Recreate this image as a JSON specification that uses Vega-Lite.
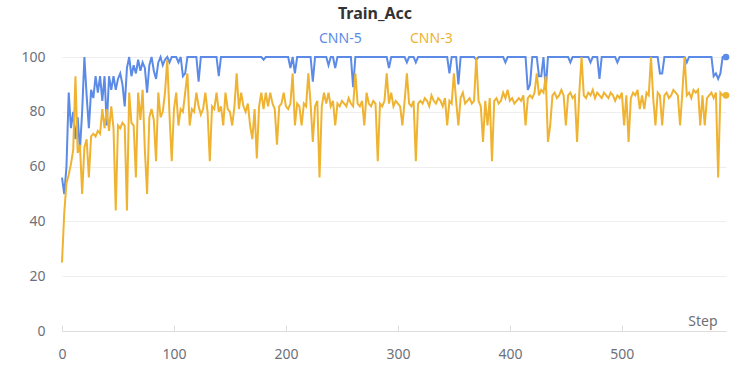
{
"$schema": "https://vega.github.io/schema/vega-lite/v6.json",
"width": 664, "height": 274,
"autosize": {"type": "none"},
"padding": {"left": 62, "top": 57, "right": 24, "bottom": 44},
"background": "white",
"title": {"text": "Train_Acc", "anchor": "middle", "dx": -19, "offset": 10, "fontSize": 16, "font": "Noto Sans", "fontWeight": "bold", "color": "#333333"},
"config": {"view": {"stroke": null}, "font": "Noto Sans"},
"data": {"values": [
{"s":0,"CNN-5":56,"CNN-3":25},{"s":2,"CNN-5":50,"CNN-3":43},{"s":4,"CNN-5":60,"CNN-3":54},{"s":6,"CNN-5":87,"CNN-3":57},{"s":8,"CNN-5":74,"CNN-3":61},
{"s":10,"CNN-5":80,"CNN-3":66},{"s":12,"CNN-5":70,"CNN-3":93},{"s":14,"CNN-5":78,"CNN-3":65},{"s":16,"CNN-5":66,"CNN-3":68},{"s":18,"CNN-5":80,"CNN-3":50},
{"s":20,"CNN-5":100,"CNN-3":67},{"s":22,"CNN-5":86,"CNN-3":70},{"s":24,"CNN-5":74,"CNN-3":56},{"s":26,"CNN-5":88,"CNN-3":71},{"s":28,"CNN-5":85,"CNN-3":72},
{"s":30,"CNN-5":93,"CNN-3":71},{"s":32,"CNN-5":87,"CNN-3":73},{"s":34,"CNN-5":93,"CNN-3":72},{"s":36,"CNN-5":84,"CNN-3":81},{"s":38,"CNN-5":93,"CNN-3":74},
{"s":40,"CNN-5":75,"CNN-3":81},{"s":42,"CNN-5":93,"CNN-3":73},{"s":44,"CNN-5":88,"CNN-3":82},{"s":46,"CNN-5":93,"CNN-3":74},{"s":48,"CNN-5":88,"CNN-3":44},
{"s":50,"CNN-5":92,"CNN-3":75},{"s":52,"CNN-5":94,"CNN-3":74},{"s":54,"CNN-5":90,"CNN-3":76},{"s":56,"CNN-5":82,"CNN-3":75},{"s":58,"CNN-5":96,"CNN-3":44},
{"s":60,"CNN-5":100,"CNN-3":87},{"s":62,"CNN-5":93,"CNN-3":76},{"s":64,"CNN-5":97,"CNN-3":75},{"s":66,"CNN-5":94,"CNN-3":56},{"s":68,"CNN-5":99,"CNN-3":87},
{"s":70,"CNN-5":95,"CNN-3":77},{"s":72,"CNN-5":98,"CNN-3":88},{"s":74,"CNN-5":96,"CNN-3":66},{"s":76,"CNN-5":87,"CNN-3":50},{"s":78,"CNN-5":97,"CNN-3":78},
{"s":80,"CNN-5":100,"CNN-3":81},{"s":82,"CNN-5":95,"CNN-3":77},{"s":84,"CNN-5":92,"CNN-3":62},{"s":86,"CNN-5":98,"CNN-3":87},{"s":88,"CNN-5":100,"CNN-3":78},
{"s":90,"CNN-5":97,"CNN-3":80},{"s":92,"CNN-5":99,"CNN-3":87},{"s":94,"CNN-5":100,"CNN-3":99},{"s":96,"CNN-5":98,"CNN-3":79},{"s":98,"CNN-5":100,"CNN-3":62},
{"s":100,"CNN-5":100,"CNN-3":81},{"s":102,"CNN-5":100,"CNN-3":87},{"s":104,"CNN-5":98,"CNN-3":75},{"s":106,"CNN-5":100,"CNN-3":81},{"s":108,"CNN-5":93,"CNN-3":80},
{"s":110,"CNN-5":94,"CNN-3":87},{"s":112,"CNN-5":100,"CNN-3":94},{"s":114,"CNN-5":100,"CNN-3":75},{"s":116,"CNN-5":100,"CNN-3":81},{"s":118,"CNN-5":100,"CNN-3":80},
{"s":120,"CNN-5":100,"CNN-3":87},{"s":122,"CNN-5":91,"CNN-3":82},{"s":124,"CNN-5":100,"CNN-3":79},{"s":126,"CNN-5":100,"CNN-3":81},{"s":128,"CNN-5":100,"CNN-3":87},
{"s":130,"CNN-5":100,"CNN-3":80},{"s":132,"CNN-5":100,"CNN-3":62},{"s":134,"CNN-5":100,"CNN-3":82},{"s":136,"CNN-5":100,"CNN-3":81},{"s":138,"CNN-5":100,"CNN-3":87},
{"s":140,"CNN-5":93,"CNN-3":80},{"s":142,"CNN-5":100,"CNN-3":82},{"s":144,"CNN-5":100,"CNN-3":75},{"s":146,"CNN-5":100,"CNN-3":87},{"s":148,"CNN-5":100,"CNN-3":81},
{"s":150,"CNN-5":100,"CNN-3":80},{"s":152,"CNN-5":100,"CNN-3":75},{"s":154,"CNN-5":100,"CNN-3":82},{"s":156,"CNN-5":100,"CNN-3":94},{"s":158,"CNN-5":100,"CNN-3":81},
{"s":160,"CNN-5":100,"CNN-3":87},{"s":162,"CNN-5":100,"CNN-3":82},{"s":164,"CNN-5":100,"CNN-3":80},{"s":166,"CNN-5":100,"CNN-3":83},{"s":168,"CNN-5":100,"CNN-3":75},
{"s":170,"CNN-5":100,"CNN-3":70},{"s":172,"CNN-5":100,"CNN-3":81},{"s":174,"CNN-5":100,"CNN-3":63},{"s":176,"CNN-5":100,"CNN-3":82},{"s":178,"CNN-5":100,"CNN-3":87},
{"s":180,"CNN-5":99,"CNN-3":81},{"s":182,"CNN-5":100,"CNN-3":87},{"s":184,"CNN-5":100,"CNN-3":82},{"s":186,"CNN-5":100,"CNN-3":87},{"s":188,"CNN-5":100,"CNN-3":83},
{"s":190,"CNN-5":100,"CNN-3":81},{"s":192,"CNN-5":100,"CNN-3":68},{"s":194,"CNN-5":100,"CNN-3":82},{"s":196,"CNN-5":100,"CNN-3":83},{"s":198,"CNN-5":100,"CNN-3":87},
{"s":200,"CNN-5":100,"CNN-3":82},{"s":202,"CNN-5":100,"CNN-3":81},{"s":204,"CNN-5":96,"CNN-3":83},{"s":206,"CNN-5":100,"CNN-3":94},{"s":208,"CNN-5":94,"CNN-3":75},
{"s":210,"CNN-5":100,"CNN-3":83},{"s":212,"CNN-5":100,"CNN-3":82},{"s":214,"CNN-5":100,"CNN-3":75},{"s":216,"CNN-5":100,"CNN-3":83},{"s":218,"CNN-5":100,"CNN-3":82},
{"s":220,"CNN-5":100,"CNN-3":94},{"s":222,"CNN-5":100,"CNN-3":83},{"s":224,"CNN-5":91,"CNN-3":69},{"s":226,"CNN-5":100,"CNN-3":82},{"s":228,"CNN-5":100,"CNN-3":84},
{"s":230,"CNN-5":100,"CNN-3":56},{"s":232,"CNN-5":100,"CNN-3":82},{"s":234,"CNN-5":100,"CNN-3":87},{"s":236,"CNN-5":100,"CNN-3":83},{"s":238,"CNN-5":97,"CNN-3":87},
{"s":240,"CNN-5":100,"CNN-3":82},{"s":242,"CNN-5":100,"CNN-3":84},{"s":244,"CNN-5":96,"CNN-3":75},{"s":246,"CNN-5":100,"CNN-3":83},{"s":248,"CNN-5":100,"CNN-3":82},
{"s":250,"CNN-5":100,"CNN-3":84},{"s":252,"CNN-5":100,"CNN-3":83},{"s":254,"CNN-5":100,"CNN-3":82},{"s":256,"CNN-5":100,"CNN-3":85},{"s":258,"CNN-5":100,"CNN-3":83},
{"s":260,"CNN-5":89,"CNN-3":82},{"s":262,"CNN-5":100,"CNN-3":94},{"s":264,"CNN-5":100,"CNN-3":83},{"s":266,"CNN-5":100,"CNN-3":82},{"s":268,"CNN-5":100,"CNN-3":84},
{"s":270,"CNN-5":100,"CNN-3":75},{"s":272,"CNN-5":100,"CNN-3":87},{"s":274,"CNN-5":100,"CNN-3":83},{"s":276,"CNN-5":100,"CNN-3":82},{"s":278,"CNN-5":100,"CNN-3":84},
{"s":280,"CNN-5":100,"CNN-3":83},{"s":282,"CNN-5":100,"CNN-3":62},{"s":284,"CNN-5":100,"CNN-3":83},{"s":286,"CNN-5":100,"CNN-3":82},{"s":288,"CNN-5":100,"CNN-3":84},
{"s":290,"CNN-5":100,"CNN-3":94},{"s":292,"CNN-5":96,"CNN-3":83},{"s":294,"CNN-5":100,"CNN-3":87},{"s":296,"CNN-5":100,"CNN-3":82},{"s":298,"CNN-5":100,"CNN-3":84},
{"s":300,"CNN-5":100,"CNN-3":83},{"s":302,"CNN-5":100,"CNN-3":82},{"s":304,"CNN-5":100,"CNN-3":75},{"s":306,"CNN-5":100,"CNN-3":84},{"s":308,"CNN-5":98,"CNN-3":94},
{"s":310,"CNN-5":100,"CNN-3":83},{"s":312,"CNN-5":100,"CNN-3":82},{"s":314,"CNN-5":100,"CNN-3":84},{"s":316,"CNN-5":98,"CNN-3":62},{"s":318,"CNN-5":100,"CNN-3":83},
{"s":320,"CNN-5":100,"CNN-3":84},{"s":322,"CNN-5":100,"CNN-3":83},{"s":324,"CNN-5":100,"CNN-3":85},{"s":326,"CNN-5":100,"CNN-3":84},{"s":328,"CNN-5":100,"CNN-3":82},
{"s":330,"CNN-5":100,"CNN-3":86},{"s":332,"CNN-5":100,"CNN-3":84},{"s":334,"CNN-5":100,"CNN-3":83},{"s":336,"CNN-5":100,"CNN-3":85},{"s":338,"CNN-5":100,"CNN-3":84},
{"s":340,"CNN-5":100,"CNN-3":82},{"s":342,"CNN-5":100,"CNN-3":85},{"s":344,"CNN-5":100,"CNN-3":75},{"s":346,"CNN-5":94,"CNN-3":84},{"s":348,"CNN-5":100,"CNN-3":83},
{"s":350,"CNN-5":100,"CNN-3":94},{"s":352,"CNN-5":100,"CNN-3":84},{"s":354,"CNN-5":90,"CNN-3":75},{"s":356,"CNN-5":100,"CNN-3":85},{"s":358,"CNN-5":100,"CNN-3":87},
{"s":360,"CNN-5":100,"CNN-3":83},{"s":362,"CNN-5":100,"CNN-3":84},{"s":364,"CNN-5":100,"CNN-3":85},{"s":366,"CNN-5":100,"CNN-3":83},{"s":368,"CNN-5":100,"CNN-3":84},
{"s":370,"CNN-5":99,"CNN-3":100},{"s":372,"CNN-5":100,"CNN-3":84},{"s":374,"CNN-5":100,"CNN-3":82},{"s":376,"CNN-5":100,"CNN-3":69},{"s":378,"CNN-5":100,"CNN-3":84},
{"s":380,"CNN-5":100,"CNN-3":75},{"s":382,"CNN-5":100,"CNN-3":85},{"s":384,"CNN-5":100,"CNN-3":62},{"s":386,"CNN-5":100,"CNN-3":84},{"s":388,"CNN-5":100,"CNN-3":85},
{"s":390,"CNN-5":100,"CNN-3":83},{"s":392,"CNN-5":100,"CNN-3":84},{"s":394,"CNN-5":100,"CNN-3":87},{"s":396,"CNN-5":98,"CNN-3":85},{"s":398,"CNN-5":100,"CNN-3":88},
{"s":400,"CNN-5":100,"CNN-3":84},{"s":402,"CNN-5":100,"CNN-3":85},{"s":404,"CNN-5":100,"CNN-3":83},{"s":406,"CNN-5":100,"CNN-3":84},{"s":408,"CNN-5":100,"CNN-3":85},
{"s":410,"CNN-5":100,"CNN-3":84},{"s":412,"CNN-5":100,"CNN-3":86},{"s":414,"CNN-5":100,"CNN-3":75},{"s":416,"CNN-5":88,"CNN-3":85},{"s":418,"CNN-5":90,"CNN-3":86},
{"s":420,"CNN-5":100,"CNN-3":85},{"s":422,"CNN-5":100,"CNN-3":87},{"s":424,"CNN-5":100,"CNN-3":94},{"s":426,"CNN-5":93,"CNN-3":86},{"s":428,"CNN-5":93,"CNN-3":88},
{"s":430,"CNN-5":100,"CNN-3":87},{"s":432,"CNN-5":88,"CNN-3":93},{"s":434,"CNN-5":100,"CNN-3":69},{"s":436,"CNN-5":100,"CNN-3":75},{"s":438,"CNN-5":100,"CNN-3":86},
{"s":440,"CNN-5":100,"CNN-3":87},{"s":442,"CNN-5":100,"CNN-3":85},{"s":444,"CNN-5":100,"CNN-3":86},{"s":446,"CNN-5":100,"CNN-3":88},{"s":448,"CNN-5":100,"CNN-3":86},
{"s":450,"CNN-5":100,"CNN-3":75},{"s":452,"CNN-5":100,"CNN-3":86},{"s":454,"CNN-5":98,"CNN-3":87},{"s":456,"CNN-5":100,"CNN-3":85},{"s":458,"CNN-5":100,"CNN-3":86},
{"s":460,"CNN-5":100,"CNN-3":69},{"s":462,"CNN-5":100,"CNN-3":87},{"s":464,"CNN-5":100,"CNN-3":100},{"s":466,"CNN-5":100,"CNN-3":86},{"s":468,"CNN-5":100,"CNN-3":85},
{"s":470,"CNN-5":100,"CNN-3":87},{"s":472,"CNN-5":98,"CNN-3":86},{"s":474,"CNN-5":100,"CNN-3":88},{"s":476,"CNN-5":100,"CNN-3":85},{"s":478,"CNN-5":100,"CNN-3":87},
{"s":480,"CNN-5":92,"CNN-3":86},{"s":482,"CNN-5":100,"CNN-3":85},{"s":484,"CNN-5":100,"CNN-3":87},{"s":486,"CNN-5":100,"CNN-3":86},{"s":488,"CNN-5":100,"CNN-3":85},
{"s":490,"CNN-5":100,"CNN-3":87},{"s":492,"CNN-5":100,"CNN-3":86},{"s":494,"CNN-5":100,"CNN-3":84},{"s":496,"CNN-5":98,"CNN-3":86},{"s":498,"CNN-5":100,"CNN-3":85},
{"s":500,"CNN-5":100,"CNN-3":87},{"s":502,"CNN-5":100,"CNN-3":75},{"s":504,"CNN-5":100,"CNN-3":86},{"s":506,"CNN-5":100,"CNN-3":69},{"s":508,"CNN-5":100,"CNN-3":85},
{"s":510,"CNN-5":100,"CNN-3":87},{"s":512,"CNN-5":100,"CNN-3":86},{"s":514,"CNN-5":100,"CNN-3":88},{"s":516,"CNN-5":100,"CNN-3":81},{"s":518,"CNN-5":100,"CNN-3":86},
{"s":520,"CNN-5":100,"CNN-3":81},{"s":522,"CNN-5":100,"CNN-3":87},{"s":524,"CNN-5":100,"CNN-3":86},{"s":526,"CNN-5":100,"CNN-3":100},{"s":528,"CNN-5":100,"CNN-3":85},
{"s":530,"CNN-5":100,"CNN-3":75},{"s":532,"CNN-5":100,"CNN-3":87},{"s":534,"CNN-5":94,"CNN-3":86},{"s":536,"CNN-5":94,"CNN-3":75},{"s":538,"CNN-5":100,"CNN-3":86},
{"s":540,"CNN-5":100,"CNN-3":87},{"s":542,"CNN-5":100,"CNN-3":85},{"s":544,"CNN-5":100,"CNN-3":86},{"s":546,"CNN-5":100,"CNN-3":88},{"s":548,"CNN-5":100,"CNN-3":87},
{"s":550,"CNN-5":100,"CNN-3":86},{"s":552,"CNN-5":100,"CNN-3":75},{"s":554,"CNN-5":100,"CNN-3":87},{"s":556,"CNN-5":100,"CNN-3":100},{"s":558,"CNN-5":98,"CNN-3":86},
{"s":560,"CNN-5":100,"CNN-3":87},{"s":562,"CNN-5":100,"CNN-3":85},{"s":564,"CNN-5":100,"CNN-3":88},{"s":566,"CNN-5":100,"CNN-3":87},{"s":568,"CNN-5":100,"CNN-3":88},
{"s":570,"CNN-5":100,"CNN-3":75},{"s":572,"CNN-5":100,"CNN-3":86},{"s":574,"CNN-5":100,"CNN-3":75},{"s":576,"CNN-5":100,"CNN-3":85},{"s":578,"CNN-5":100,"CNN-3":86},
{"s":580,"CNN-5":100,"CNN-3":87},{"s":582,"CNN-5":93,"CNN-3":85},{"s":584,"CNN-5":94,"CNN-3":87},{"s":586,"CNN-5":92,"CNN-3":56},{"s":588,"CNN-5":94,"CNN-3":87},
{"s":590,"CNN-5":100,"CNN-3":86},{"s":593,"CNN-5":100,"CNN-3":86}
]},
"transform": [{"fold": ["CNN-5", "CNN-3"], "as": ["series", "acc"]}],
"encoding": {
  "x": {"field": "s", "type": "quantitative", "scale": {"domain": [0, 593], "nice": false, "zero": false},
        "axis": {"values": [0, 100, 200, 300, 400, 500], "grid": false, "domainColor": "#DDDDDD", "tickColor": "#DDDDDD", "tickSize": -6, "labelFlush": false, "labelColor": "#6E7079", "labelFontSize": 14, "labelPadding": 22, "labelFont": "Noto Sans",
                 "title": "Step", "titleFont": "Noto Sans", "titleFontWeight": "normal", "titleFontSize": 14, "titleColor": "#6E7079", "titleX": 655, "titleY": -6, "titleAlign": "right", "titleBaseline": "alphabetic", "titleAnchor": null}},
  "y": {"field": "acc", "type": "quantitative", "scale": {"domain": [0, 100], "nice": false},
        "axis": {"values": [0, 20, 40, 60, 80, 100], "domain": false, "ticks": false, "gridColor": "#EEEEEE", "labelColor": "#6E7079", "labelFontSize": 14, "labelPadding": 17, "labelFont": "Noto Sans", "title": null}},
  "color": {"field": "series", "type": "nominal", "scale": {"domain": ["CNN-5", "CNN-3"], "range": ["#5B8BE6", "#EFB331"]},
            "legend": {"orient": "none", "legendX": 243, "legendY": -25, "direction": "horizontal", "title": null, "symbolSize": 0, "symbolOpacity": 0, "symbolStrokeWidth": 0, "labelOffset": 0, "labelFontSize": 14, "labelFont": "Noto Sans", "columnPadding": 34,
                       "encode": {"labels": {"update": {"fill": {"scale": "color", "field": "value"}}}}}}
},
"layer": [
  {"mark": {"type": "line", "strokeWidth": 2}},
  {"transform": [{"filter": "datum.s == 593"}], "mark": {"type": "point", "filled": true, "size": 45, "opacity": 1}}
]
}
